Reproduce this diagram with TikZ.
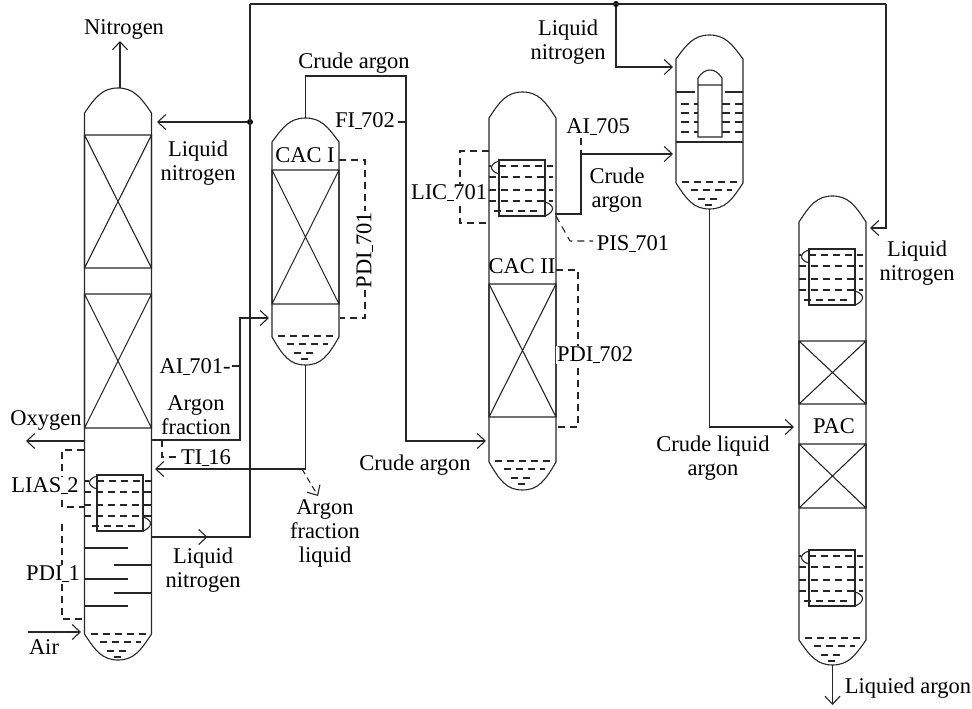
\documentclass[tikz,border=0pt]{standalone}
\usepackage{fontspec}
\setmainfont{Liberation Serif}
\usetikzlibrary{arrows.meta,positioning,decorations.markings}
\newcommand{\us}{\kern-0.5pt\rule[-2pt]{7pt}{1.4pt}\kern-0.5pt}
% vessel: name, left x, apex y, upper shoulder y, lower shoulder y, lower apex y
\newcommand{\vessel}[6]{
  \node[hull, minimum height=#6pt-#3pt, anchor=north west] (#1) at (#2,#3) {};
  \draw[ln] (#2,#4) .. controls (#2+11,#3+9) and (#2+18,#3) .. (#2+33.5,#3)
    .. controls (#2+49,#3) and (#2+56,#3+9) .. (#2+67,#4) -- (#2+67,#5)
    .. controls (#2+56,#6-9) and (#2+49,#6) .. (#2+33.5,#6)
    .. controls (#2+18,#6) and (#2+11,#6-9) .. (#2,#5) -- cycle;
}
% packing: left x, top y, bottom y
\newcommand{\packing}[3]{
  \draw[ln] (#1,#2) rectangle (#1+67,#3) (#1,#2) -- (#1+67,#3) (#1+67,#2) -- (#1,#3);
}
% liquid level: left x, shoulder y
\newcommand{\liquid}[2]{
  \draw[dsh] (#1+6,#2) -- (#1+66,#2) (#1+15,#2+8) -- (#1+56,#2+8);
  \draw[dsh] (#1+22,#2+17) -- (#1+46,#2+17) (#1+29,#2+23) -- (#1+38,#2+23);
}
% coil: box left x, box top y, dash start left of box
\newcommand{\coil}[3]{
  \draw[ln] (#1,#2) rectangle (#1+46,#2+56);
  \draw[ln] (#1,#2+1) .. controls (#1-10,#2+4) and (#1-10,#2+11) .. (#1,#2+14);
  \draw[ln] (#1+46,#2+42) .. controls (#1+56,#2+45) and (#1+56,#2+52) .. (#1+46,#2+56);
  \draw[ln] (#1-#3,#2+6) -- (#1-8,#2+6);
  \draw[dsh] (#1,#2+6) -- (#1+54,#2+6) (#1-#3,#2+17) -- (#1+54,#2+17);
  \draw[dsh] (#1-#3,#2+30) -- (#1+54,#2+30) (#1-#3,#2+41) -- (#1+54,#2+41);
  \draw[dsh] (#1-5,#2+51) -- (#1+42,#2+51);
}
\begin{document}
\begin{tikzpicture}[x=1pt, y=-1pt,
  font=\fontsize{22.5}{24}\selectfont,
  ln/.style={line width=1.1pt, black!85},
  dsh/.style={ln, dash pattern=on 7pt off 5pt},
  arr/.style={ln, -{Straight Barb[length=8pt, width=15pt, line width=1.1pt]}},
  midarr/.style={ln, postaction={decorate}, decoration={markings, mark=at position #1 with {\arrow{Straight Barb[length=8pt, width=15pt, line width=1.1pt]}}}},
  hull/.style={inner sep=0pt, minimum width=67pt, outer sep=0pt},
  lab/.style={align=center, inner sep=1pt, yshift=-2pt},
  tag/.style={lab, fill=white},
  dotn/.style={circle, fill=black, inner sep=0pt, minimum size=6pt}]
  \useasboundingbox (0,0) rectangle (972,709);
  % columns
  \vessel{mainc}{84.5}{88}{113}{634}{660}
  \vessel{cacone}{272}{118}{142}{337}{365}
  \vessel{cactwo}{489}{92}{118}{462}{490}
  \vessel{cond}{676}{35}{59}{183}{209}
  \vessel{pac}{799}{196}{222}{640}{665}
  \packing{84.5}{135}{268}
  \packing{84.5}{294}{428}
  \packing{272}{170}{304}
  \packing{489}{284}{417}
  \packing{799}{341}{404}
  \packing{799}{444}{508}
  \liquid{84.5}{634}
  \liquid{272}{336}
  \liquid{489}{461}
  \liquid{676}{182}
  \liquid{799}{638}
  \coil{97}{475}{13}
  \coil{499}{160}{10}
  \coil{809}{249}{10}
  \coil{809}{550}{10}
  % trays
  \draw[ln] (84.5,548) -- (128,548) (114,565) -- (151.5,565) (84.5,579) -- (128,579)
    (114,593) -- (151.5,593) (84.5,606) -- (128,606);
  % inner tube of the condenser
  \draw[ln] (698,137) -- (698,78) .. controls (702,72) and (706,70) .. (710,70)
    .. controls (714,70) and (718,72) .. (722,78) -- (722,137) -- cycle (698,85) -- (722,85);
  \draw[ln] (676,92) -- (695,92) (725,92) -- (743,92) (676,142) -- (743,142);
  \draw[dsh, dash pattern=on 8pt off 5pt] (681,104) -- (698,104) (681,113) -- (698,113) (681,122) -- (698,122) (681,132) -- (698,132);
  \draw[dsh, dash pattern=on 8pt off 5pt] (722,104) -- (743,104) (722,113) -- (743,113) (722,122) -- (743,122) (722,132) -- (743,132);
  % junctions
  \node[dotn] (dotleft) at (250,122) {};
  \node[dotn] (dottop) at (616,4) {};
  \coordinate (topleft) at (250,4);
  \coordinate (topright) at (886,4);
  % labels
  \node[lab] (nitro) at (124,27) {Nitrogen};
  \coordinate (nitroend) at (120,41);
  \node[lab] (lnone) at (198,161) {Liquid\\nitrogen};
  \node[lab] (lntwo) at (203,568) {Liquid\\nitrogen};
  \node[lab] (lnthree) at (568,40) {Liquid\\nitrogen};
  \node[lab] (lnfour) at (917,261) {Liquid\\nitrogen};
  \node[lab] (oxy) at (46,418) {Oxygen};
  \node[lab] (air) at (44,645) {Air};
  \node[lab] (argfrac) at (196,413) {Argon\\fraction};
  \node[lab] (argliq) at (325,531) {Argon\\fraction\\liquid};
  \node[lab] (crudea) at (354,61) {Crude argon};
  \node[lab] (crudeb) at (415,463) {Crude argon};
  \node[lab] (crudec) at (617,188) {Crude\\argon};
  \node[lab] (crudeliq) at (713,456) {Crude liquid\\argon};
  \node[lab] (liqarg) at (908,686) {Liquied argon};
  \node[lab] (caci) at (305,153) {CAC I};
  \node[lab] (cacii) at (522,264) {CAC II};
  \node[lab] (pacn) at (834,424) {PAC};
  % main lines
  \draw[arr] (mainc.north -| nitroend) -- (nitroend);
  \draw[arr] (dotleft) -- (157,122);
  \draw[ln] (topleft) -- (topright);
  \draw[arr] (topright) |- (870,228);
  \draw[arr] (dottop) |- (673,67);
  \draw[midarr=0.088] (152,537) -| (topleft);
  \draw[arr] (84.5,441) -- (26,441);
  \draw[arr] (28,632) -- (81,632);
  \draw[arr] (152,440) -| (240,318) -- (269,318);
  \draw[arr] (cacone.south) |- (155,469);
  \draw[arr, dash pattern=on 6pt off 4pt] (302,469) -- (318,496);
  \draw[arr] (cacone.north) |- (406,76) |- (486,441);
  \draw[arr] (555,214) -| (581,154) -- (673,154);
  \draw[arr] (cond.south) |- (794,427);
  \draw[arr] (pac.south) -- (832.5,705);
  % instrument lines
  \draw[dsh] (84,450) -| (62,507) -- (84,507);
  \draw[dsh] (62,524) |- (84,619);
  \draw[dsh] (162,440) |- (180,457);
  \draw[dsh] (339,160) -| (365,318) -- (340,318);
  \draw[dsh] (489,151) -| (460,223) -- (488,223);
  \draw[dsh] (556,270) -| (578,427) -- (556,427);
  \draw[dsh] (556,216) -- (570,241) -- (593,241);
  \draw[dsh] (581,138) -- (581,154);
  \draw[ln] (398,122) -- (406,122) (232,366) -- (240,366);
  % instrument tags
  \node[tag] (lias) at (45,484) {LIAS\us2};
  \node[tag] (pdione) at (53,572) {PDI\us1};
  \node[tag] (tione) at (206,456) {TI\us16};
  \node[lab] (aiseven) at (195,365) {AI\us701-};
  \node[lab] (fi) at (365,119) {FI\us702};
  \node[tag, rotate=90] (pdiseven) at (365,248) {PDI\us701};
  \node[tag] (lic) at (449,191) {LIC\us701};
  \node[lab] (aifive) at (598,125) {AI\us705};
  \node[lab] (pis) at (633,242) {PIS\us701};
  \node[tag] (pditwo) at (595,353) {PDI\us702};
\end{tikzpicture}
\end{document}
